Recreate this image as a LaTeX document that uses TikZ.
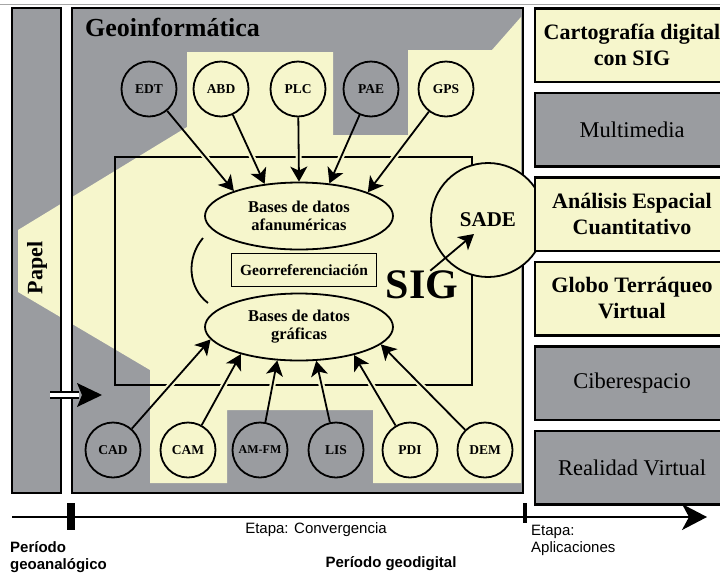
\documentclass[tikz,border=0pt]{standalone}
\usepackage{fontspec}
\setmainfont{Liberation Serif}
\setsansfont{Liberation Sans}
\usetikzlibrary{arrows.meta,positioning,shapes.geometric}
\definecolor{geoyel}{RGB}{246,246,204}
\definecolor{geogray}{RGB}{154,156,160}

\begin{document}
\begin{tikzpicture}[
  x=1pt, y=-1pt,
  node distance=8.5pt,
  boxline/.style={line width=2.5pt},
  tech/.style={draw, circle, line width=1.8pt, minimum size=55pt, inner sep=0pt, font=\fontsize{13.5}{15}\selectfont\bfseries},
  techy/.style={tech, fill=geoyel},
  techg/.style={tech, fill=geogray},
  bdb/.style={draw, ellipse, line width=1.8pt, fill=geoyel, minimum width=188pt, minimum height=67pt, align=center, inner sep=0pt, font=\fontsize{16.5}{18}\selectfont\bfseries},
  app/.style={draw, line width=2.5pt, minimum width=194pt, minimum height=73.5pt, align=center, inner sep=2pt},
  appy/.style={app, fill=geoyel, font=\fontsize{22}{26}\selectfont\bfseries},
  appg/.style={app, fill=geogray, font=\fontsize{22.5}{26}\selectfont},
  arr/.style={-{Stealth[length=15pt,width=17pt,inset=4pt]}, line width=1.8pt},
  halo/.style={draw=geoyel, line width=6pt},
  tltext/.style={font=\sffamily\fontsize{15}{17}\selectfont, align=left, inner sep=0pt}
]
\path[use as bounding box, clip] (0,0) rectangle (720,574);
\draw[gray!70, line width=1pt] (0,4) -- (720,4);

% background panels
\fill[geogray] (12,8) rectangle (61,493);
\fill[geogray] (72,8) rectangle (523,493);
\begin{scope}
  \clip (12,8) rectangle (61,493) (72,8) rectangle (523,493);
  \fill[geoyel] (187,52) -- (333,52) -- (333,135) -- (408,135) -- (408,50) -- (492,50) -- (521,17)
    -- (521,483) -- (373,483) -- (373,410) -- (227,410) -- (227,483) -- (150,483) -- (150,370)
    -- (18,292) -- (18,230) -- (187,127) -- cycle;
\end{scope}
\draw[boxline] (12,8) rectangle (61,493);
\draw[boxline] (72,8) rectangle (523,493);

% break between the periods
\fill[white] (50,392) rectangle (79,398);
\draw[line width=1.5pt] (50,392) -- (79,392) (50,398) -- (79,398);
\fill (77,383) -- (102,395) -- (77,407) -- (82,395) -- cycle;

\node[rotate=90, font=\fontsize{22}{24}\selectfont\bfseries] (papel) at (37,268) {Papel};
\node[anchor=west, inner sep=0pt, font=\fontsize{26}{30}\selectfont\bfseries] (geoinf) at (85,27) {Geoinformática};

% SIG frame
\draw[line width=1.8pt] (115,157) rectangle (472,385);

\node[techg] (edt) at (149,89) {EDT};
\node[techy] (abd) at (221,89) {ABD};
\node[techy] (plc) at (298,89) {PLC};
\node[techg] (pae) at (371,89) {PAE};
\node[techy] (gps) at (446,89) {GPS};

\node[techg] (cad) at (113,450) {CAD};
\node[techy] (cam) at (188,450) {CAM};
\node[techg, font=\fontsize{12}{14}\selectfont\bfseries] (amfm) at (260,450) {AM-FM};
\node[techg] (lis) at (336,450) {LIS};
\node[techy] (pdi) at (410,450) {PDI};
\node[techy] (dem) at (485,450) {DEM};

\node[bdb] (bda) at (299,216) {Bases de datos\\afanuméricas};
\node[bdb] (bdg) at (299,327) {Bases de datos\\gráficas};
\node[draw, line width=1.8pt, minimum width=145pt, minimum height=33pt, inner sep=2pt,
  font=\fontsize{15.5}{17}\selectfont\bfseries] (georef) at (304,270) {Georreferenciación};
\draw[line width=1.8pt] (203,238) .. controls (186,258) and (188,288) .. (208,303);

% gaps where the arrows cross the frame
\begin{scope}
  \clip (110,151) rectangle (478,163) (110,379) rectangle (478,391);
  \foreach \src/\ang in {edt/159, abd/137, plc/90, pae/47, gps/19}
    \draw[halo] (\src) -- (bda.\ang);
  \foreach \src/\ang in {cad/188, cam/205, amfm/237, lis/297, pdi/333, dem/348}
    \draw[halo] (\src) -- (bdg.\ang);
\end{scope}
\foreach \src/\ang in {edt/159, abd/137, plc/90, pae/47, gps/19}
  \draw[arr] (\src) -- (bda.\ang);
\foreach \src/\ang in {cad/188, cam/205, amfm/237, lis/297, pdi/333, dem/348}
  \draw[arr] (\src) -- (bdg.\ang);

\node[inner sep=0pt, font=\fontsize{42}{44}\selectfont\bfseries] (sig) at (422,285) {SIG};
\node[draw, circle, line width=1.8pt, fill=geoyel, minimum size=114pt, inner sep=0pt,
  font=\fontsize{21}{24}\selectfont\bfseries] (sade) at (488,220) {SADE};
\coordinate (sadein) at (474,234);
\draw[arr] (sig.60) -- (sadein);

% applications column
\node[appy] (cart) at (632,45) {Cartografía digital\\con SIG};
\node[appg, below=of cart] (multi) {Multimedia};
\node[appy, below=of multi] (analisis) {Análisis Espacial\\Cuantitativo};
\node[appy, below=of analisis] (globo) {Globo Terráqueo\\Virtual};
\node[appg, below=of globo] (ciber) {Ciberespacio};
\node[appg, below=of ciber] (realidad) {Realidad Virtual};

% time line
\coordinate (tl0) at (12,517);
\coordinate (tl1) at (707,517);
\draw[line width=1.8pt, -{Stealth[length=25pt,width=26pt,inset=7pt]}] (tl0) -- (tl1);
\draw[line width=8pt] (71,503) -- (71,530);
\draw[line width=4pt] (525,503) -- (525,523);
\node[tltext, anchor=north west] (pgeoa) at (10,541) {\textbf{Período}\\\textbf{geoanalógico}};
\node[tltext] (conv) at (316,530) {Etapa: Convergencia};
\node[tltext] (pgeod) at (391,564) {\textbf{Período geodigital}};
\node[tltext, anchor=north west] (aplic) at (531,525) {Etapa:\\Aplicaciones};
\end{tikzpicture}
\end{document}
